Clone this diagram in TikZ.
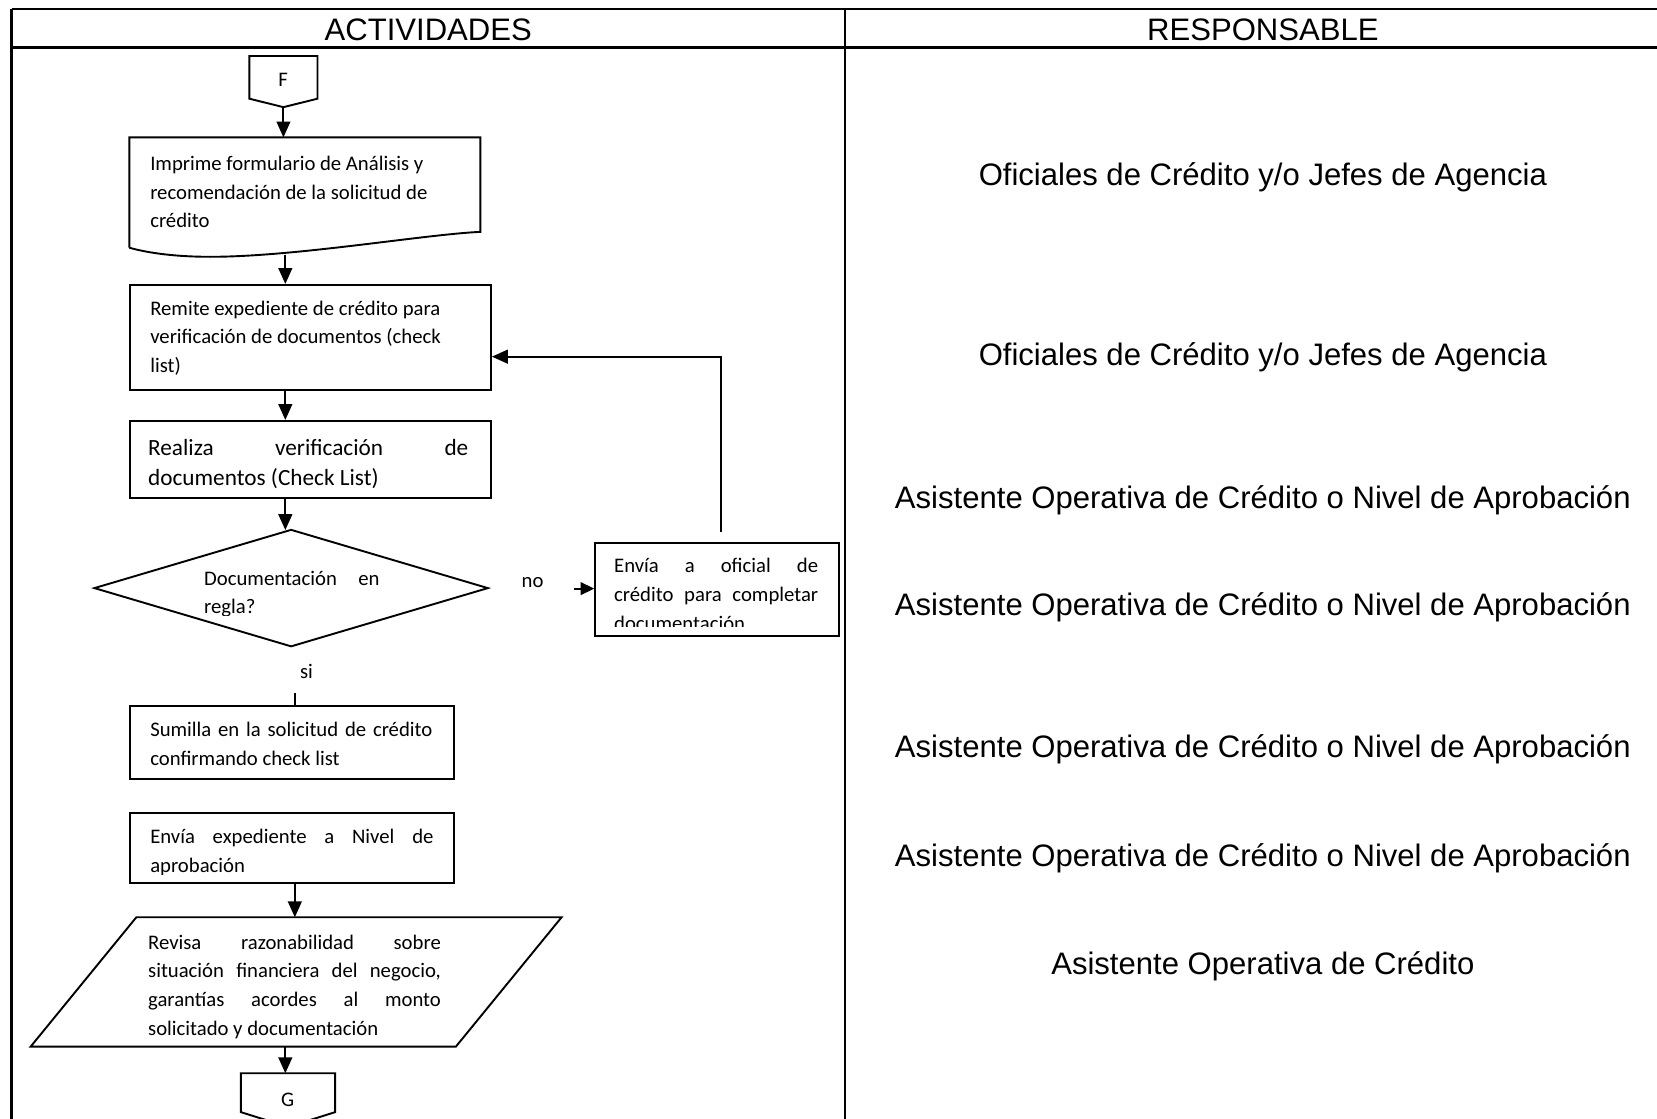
\documentclass[tikz,border=0pt]{standalone}
\usepackage{fontspec}
\setmainfont{Carlito}
\newfontfamily\respfamily{Liberation Sans}
\usetikzlibrary{arrows.meta,shapes.geometric,calc}
\newcommand\flowsize{\fontsize{19.6pt}{27.2pt}\selectfont}
\newcommand\bigflowsize{\fontsize{22pt}{29pt}\selectfont}
\newcommand\respsize{\respfamily\fontsize{29.4pt}{34pt}\selectfont}
\newcommand\fstrut{\rule{0pt}{20pt}}
\newcommand\bstrut{\rule{0pt}{22pt}}
\newcommand\jline[2]{\makebox[#1][s]{#2}}

\begin{document}
\begin{tikzpicture}[x=1pt,y=-1pt,
  tbl/.style={line width=2.2pt},
  flow/.style={line width=1.8pt},
  arr/.style={flow,-{Triangle[length=15pt,width=13pt]}},
  shapebox/.style={draw,flow,rectangle,inner sep=0pt,anchor=north west},
  ghost/.style={rectangle,inner sep=0pt,anchor=north west},
  txt/.style={inner sep=0pt,anchor=north west,align=left,font=\flowsize},
  resp/.style={inner sep=0pt,font=\respsize,text height=21pt,text depth=6pt},
  lbl/.style={inner sep=0pt,font=\flowsize}]

\useasboundingbox (0,0) rectangle (1568,1058);
\clip (0,0) rectangle (1568,1058);
\fill[white] (0,0) rectangle (1568,1058);

% table frame
\draw[tbl] (10.9,8.8) -- (1600,8.8);
\draw[tbl] (10.9,44.8) -- (1600,44.8);
\draw[tbl] (10.9,8.8) -- (10.9,1080);
\draw[tbl] (799.6,8.8) -- (799.6,1080);
\node[resp] (hact) at (405.2,31) {ACTIVIDADES};
\node[resp] (hresp) at (1195,31) {RESPONSABLE};

% responsible column
\node[resp] (r1) at (1195,168.5) {Oficiales de Crédito y/o Jefes de Agencia};
\node[resp] (r2) at (1195,338.5) {Oficiales de Crédito y/o Jefes de Agencia};
\node[resp] (r3) at (1195,473.5) {Asistente Operativa de Crédito o Nivel de Aprobación};
\node[resp] (r4) at (1195,574.5) {Asistente Operativa de Crédito o Nivel de Aprobación};
\node[resp] (r5) at (1195,709.5) {Asistente Operativa de Crédito o Nivel de Aprobación};
\node[resp] (r6) at (1195,812.5) {Asistente Operativa de Crédito o Nivel de Aprobación};
\node[resp] (r7) at (1195,914.5) {Asistente Operativa de Crédito};

% off-page connector F
\node[ghost,minimum width=64pt,minimum height=40pt] (fcon) at (236,53) {};
\coordinate (ftip) at ($(fcon.south)+(0,8)$);
\draw[flow] (fcon.south west) -- (fcon.north west) -- (fcon.north east) -- (fcon.south east) -- (ftip) -- cycle;
\node[lbl] (ftxt) at (268,75.7) {F};

% document shape
\node[ghost,minimum width=331.8pt,minimum height=104pt] (imprime) at (122.4,130) {};
\draw[flow] (imprime.south west) -- (imprime.north west) -- (imprime.north east)
  -- ($(imprime.south east)+(0,-15)$) .. controls (400,222) and (280,243) .. (199,243)
  .. controls (160,243) and (135,238) .. (imprime.south west);
\node[txt] (imprimetxt) at (142,141) {\fstrut Imprime formulario de Análisis y\\recomendación de la solicitud de\\crédito};
\coordinate (ibot) at (270,241);

% process boxes
\node[shapebox,minimum width=341.3pt,minimum height=99.7pt] (remite) at (122.4,268.7) {};
\node[txt] (remitetxt) at (142,278) {\fstrut Remite expediente de crédito para\\verificación de documentos (check\\list)};

\node[shapebox,minimum width=341.6pt,minimum height=72.9pt] (realiza) at (122.4,397.4) {};
\node[txt,font=\bigflowsize] (realizatxt) at (140,408.5) {\bstrut\jline{303pt}{Realiza verificación de}\\documentos (Check List)};

% decision
\node[draw,flow,diamond,inner sep=0pt,minimum width=373pt,minimum height=111pt] (dec) at (275.5,556.5) {};
\begin{scope}
  \clip (150,520) rectangle (420,582);
  \node[txt] (dectxt) at (193,533.6) {\fstrut\jline{166pt}{Documentación en}\\regla?};
\end{scope}
\node[lbl] (nolbl) at (504,551) {no};
\node[lbl] (silbl) at (290,635) {si};

\node[shapebox,minimum width=230.3pt,minimum height=88.3pt] (envia) at (562.4,512.6) {};
\begin{scope}
  \clip (envia.north west) rectangle ($(envia.south east)+(0,-10)$);
  \node[txt] (enviatxt) at (581,521.8) {\fstrut\jline{193pt}{Envía a oficial de}\\\jline{193pt}{crédito para completar}\\documentación};
\end{scope}

\node[shapebox,minimum width=305.9pt,minimum height=69.5pt] (sumilla) at (122.4,667) {};
\node[txt] (sumillatxt) at (142,676.6) {\fstrut\jline{267pt}{Sumilla en la solicitud de crédito}\\confirmando check list};

\node[shapebox,minimum width=305.9pt,minimum height=66.3pt] (enviaexp) at (122.4,768.7) {};
\begin{scope}
  \clip (enviaexp.north west) rectangle ($(enviaexp.south east)+(0,-9)$);
  \node[txt] (enviaexptxt) at (142,778.3) {\fstrut\jline{268pt}{Envía expediente a Nivel de}\\aprobación};
\end{scope}

% data (parallelogram)
\node[ghost,minimum width=502pt,minimum height=122pt] (revisa) at (29,868) {};
\draw[flow] ($(revisa.north west)+(100,0)$) -- (revisa.north east) -- ($(revisa.south east)+(-100,0)$) -- (revisa.south west) -- cycle;
\node[txt] (revisatxt) at (140,878) {\fstrut\jline{277pt}{Revisa razonabilidad sobre}\\\jline{277pt}{situación financiera del negocio,}\\\jline{277pt}{garantías acordes al monto}\\solicitado y documentación};

% off-page connector G
\node[ghost,minimum width=88.7pt,minimum height=36.4pt] (gcon) at (228,1015.6) {};
\coordinate (gtip) at ($(gcon.south)+(0,14)$);
\draw[flow] (gcon.south west) -- (gcon.north west) -- (gcon.north east) -- (gcon.south east) -- (gtip) -- cycle;
\node[lbl] (gtxt) at (272.3,1041) {G};

% connectors
\coordinate (colA) at (270,0);
\coordinate (colB) at (279,0);
\draw[arr] (ftip) -- (ftip |- imprime.north);
\draw[arr] (ibot) -- (ibot |- remite.north);
\draw[arr] (remite.south -| colA) -- (realiza.north -| colA);
\draw[arr] (realiza.south -| colA) -- ($(dec.north -| colA)+(0,1.5)$);
\coordinate (nostart) at (543.5,557);
\draw[arr,-{Triangle[length=13pt,width=12pt]}] (nostart) -- (nostart -| envia.west);
\coordinate (loopstart) at (682.3,503);
\coordinate (loopturn) at (682.3,337.5);
\draw[arr] (loopstart) -- (loopturn) -- (loopturn -| remite.east);
\coordinate (sitop) at (279,656);
\draw[flow] (sitop) -- (sitop |- sumilla.north);
\draw[arr] (enviaexp.south -| colB) -- (revisa.north -| colB);
\draw[arr] (revisa.south -| colA) -- (gcon.north -| colA);
\end{tikzpicture}
\end{document}
